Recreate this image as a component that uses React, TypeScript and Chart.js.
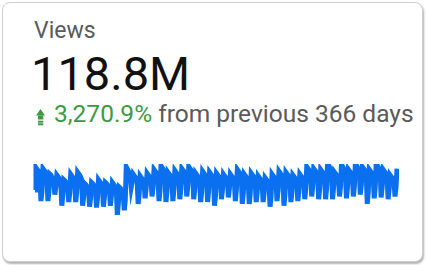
import React, { useEffect, useRef } from "react";
import { Chart, registerables } from "chart.js";

Chart.register(...registerables);

// Daily views (thousands), 366 days, one row per week
const dailyViews: number[] = [
  308, 404, 398, 392, 386, 374, 260,
  300, 400, 394, 388, 380, 370, 260,
  298, 376, 372, 364, 358, 348, 288,
  322, 372, 366, 360, 352, 342, 240,
  284, 352, 348, 342, 334, 324, 256,
  294, 376, 370, 364, 356, 346, 256,
  298, 384, 378, 372, 364, 354, 240,
  276, 336, 332, 326, 318, 310, 236,
  270, 340, 336, 330, 322, 312, 232,
  272, 352, 346, 340, 332, 322, 236,
  278, 340, 336, 330, 322, 312, 240,
  280, 340, 334, 328, 320, 310, 200,
  246, 320, 316, 310, 302, 292, 220,
  262, 408, 400, 392, 380, 366, 320,
  344, 376, 370, 364, 356, 346, 248,
  288, 368, 362, 356, 348, 338, 272,
  312, 380, 374, 368, 360, 350, 280,
  318, 396, 390, 384, 376, 366, 260,
  304, 412, 406, 398, 390, 378, 256,
  300, 384, 378, 372, 364, 354, 260,
  306, 392, 386, 380, 372, 362, 268,
  310, 400, 394, 388, 380, 370, 280,
  322, 408, 402, 396, 388, 376, 268,
  308, 380, 374, 368, 360, 350, 256,
  298, 388, 382, 376, 368, 358, 256,
  300, 384, 378, 372, 364, 354, 240,
  284, 380, 374, 368, 360, 350, 268,
  310, 376, 370, 364, 356, 346, 276,
  316, 376, 370, 364, 356, 346, 260,
  304, 396, 390, 384, 376, 366, 248,
  292, 376, 370, 364, 356, 346, 248,
  290, 380, 374, 368, 360, 350, 256,
  296, 368, 362, 356, 348, 338, 256,
  294, 360, 354, 348, 340, 330, 236,
  278, 376, 370, 364, 356, 346, 260,
  302, 388, 382, 376, 368, 358, 240,
  286, 384, 378, 372, 364, 354, 256,
  296, 372, 366, 360, 352, 342, 260,
  300, 376, 370, 364, 356, 346, 268,
  312, 408, 402, 396, 388, 376, 280,
  322, 400, 394, 388, 380, 370, 268,
  312, 396, 390, 384, 376, 366, 268,
  314, 420, 414, 406, 398, 386, 268,
  316, 384, 378, 372, 364, 354, 280,
  322, 416, 410, 402, 394, 382, 272,
  316, 396, 390, 384, 376, 366, 280,
  322, 420, 414, 406, 398, 386, 288,
  330, 408, 402, 396, 388, 376, 248,
  296, 396, 390, 384, 376, 366, 272,
  316, 420, 414, 406, 398, 386, 276,
  318, 396, 390, 384, 376, 366, 268,
  310, 372, 366, 360, 352, 342, 280,
  320, 400,
];

const dayLabels: string[] = dailyViews.map((_, i) => `Day ${i + 1}`);

const metricTitle = "Views";
const metricTotal = "118.8M";
const changeText = "3,270.9%";
const periodText = "from previous 366 days";

const yMin = 200;
const yMax = 420;

export default function App() {
  const canvasRef = useRef<HTMLCanvasElement | null>(null);

  useEffect(() => {
    if (!canvasRef.current) return;
    const chart = new Chart(canvasRef.current, {
      type: "line",
      data: {
        labels: dayLabels,
        datasets: [
          {
            data: dailyViews,
            borderColor: "#0a70f0",
            borderWidth: 5,
            pointRadius: 0,
            tension: 0,
            fill: false,
          },
        ],
      },
      options: {
        animation: false,
        responsive: false,
        devicePixelRatio: 1,
        layout: { padding: { left: 2, right: 2, top: 6, bottom: 6 } },
        plugins: { legend: { display: false }, tooltip: { enabled: false } },
        scales: {
          x: { display: false },
          y: { display: false, min: yMin, max: yMax },
        },
      },
    });
    return () => chart.destroy();
  }, []);

  const font = "Roboto, 'Noto Sans', sans-serif";

  return (
    <div style={{ position: "fixed", left: 0, top: 0, width: 426, height: 265, background: "#fff", fontFamily: font }}>
      <div
        style={{
          position: "absolute",
          left: 2,
          top: 2,
          width: 419,
          height: 258,
          border: "1px solid #cfcfcf",
          borderRadius: 8,
          boxShadow: "1px 2px 2px rgba(0,0,0,0.3)",
          background: "#fff",
        }}
      />
      <div style={{ position: "absolute", left: 34, top: 19, fontSize: 23, lineHeight: "23px", color: "#5a5a5a", whiteSpace: "nowrap" }}>
        {metricTitle}
      </div>
      <div style={{ position: "absolute", left: 31, top: 50, fontSize: 47, lineHeight: "47px", color: "#111", whiteSpace: "nowrap" }}>
        {metricTotal}
      </div>
      <svg style={{ position: "absolute", left: 36, top: 109 }} width={10} height={17} viewBox="0 0 10 17">
        <polygon points="4.5,0 9,6.5 0,6.5" fill="#3c9a41" />
        <rect x={2} y={6.5} width={5.3} height={4} fill="#3c9a41" />
        <rect x={2} y={11.7} width={5.3} height={2} fill="#3c9a41" />
        <rect x={2} y={14.3} width={5.3} height={2} fill="#3c9a41" />
      </svg>
      <div style={{ position: "absolute", left: 54, top: 102, fontSize: 24.5, lineHeight: "24px", whiteSpace: "nowrap" }}>
        <span style={{ color: "#3c9a41" }}>{changeText}</span>
        <span style={{ color: "#5a5a5a" }}> {periodText}</span>
      </div>
      <div style={{ position: "absolute", left: 33, top: 158, width: 366, height: 63 }}>
        <canvas ref={canvasRef} width={366} height={63} style={{ display: "block" }} />
      </div>
    </div>
  );
}
